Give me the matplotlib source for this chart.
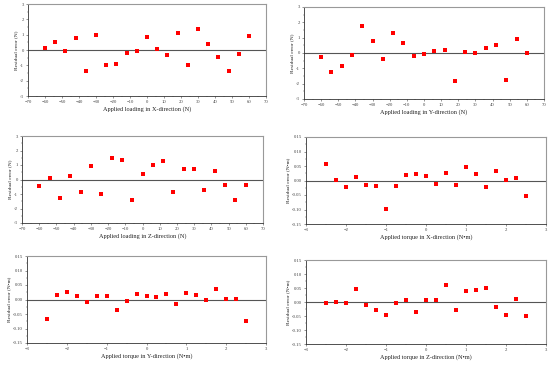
import matplotlib
matplotlib.use("Agg")
import matplotlib.pyplot as plt
from matplotlib.ticker import MultipleLocator, AutoMinorLocator, FormatStrFormatter

plt.rcParams['font.family'] = ['Liberation Serif', 'DejaVu Serif']

load_x = [-60, -54, -48, -42, -36, -30, -24, -18, -12, -6, 0, 6, 12, 18, 24, 30, 36, 42, 48, 54, 60]
torque_x = [-2.5, -2.25, -2.0, -1.75, -1.5, -1.25, -1.0, -0.75, -0.5, -0.25, 0.0,
            0.25, 0.5, 0.75, 1.0, 1.25, 1.5, 1.75, 2.0, 2.25, 2.5]

err_fx = [0.15, 0.55, -0.05, 0.8, -1.4, 1.0, -1.0, -0.9, -0.2, -0.08, 0.82,
          0.05, -0.32, 1.12, -1.0, 1.38, 0.42, -0.45, -1.35, -0.25, 0.9]
err_fy = [-0.27, -1.23, -0.88, -0.15, 1.73, 0.77, -0.42, 1.32, 0.65, -0.17, -0.07,
          0.15, 0.2, -1.85, 0.05, 0.0, 0.33, 0.52, -1.75, 0.93, 0.03]
err_fz = [-0.47, 0.07, -1.27, 0.22, -0.88, 0.92, -1.02, 1.47, 1.35, -1.38, 0.35,
          1.0, 1.3, -0.83, 0.72, 0.75, -0.72, 0.57, -0.35, -1.4, -0.4]
err_mx = [0.057, 0.002, -0.022, 0.013, -0.015, -0.018, -0.098, -0.018, 0.018, 0.022, 0.015,
          -0.012, 0.027, -0.015, 0.046, 0.023, -0.022, 0.032, 0.002, 0.009, -0.054]
err_my = [-0.068, 0.014, 0.025, 0.013, -0.010, 0.013, 0.011, -0.035, -0.005, 0.019, 0.013,
          0.009, 0.018, -0.014, 0.023, 0.016, -0.001, 0.036, 0.002, 0.001, -0.075]
err_mz = [-0.002, 0.001, -0.005, 0.047, -0.010, -0.030, -0.046, -0.005, 0.007, -0.034, 0.006,
          0.006, 0.060, -0.027, 0.041, 0.044, 0.050, -0.019, -0.046, 0.012, -0.049]

xlabels = ["Applied loading in X-direction (N)",
           "Applied loading in Y-direction (N)",
           "Applied loading in Z-direction (N)",
           "Applied torque in X-direction (N\u2022m)",
           "Applied torque in Y-direction (N\u2022m)",
           "Applied torque in Z-direction (N\u2022m)"]
ylabels = ["Residual error (N)"] * 3 + ["Residual error (N\u2022m)"] * 3

W, H = 550, 367
fig = plt.figure(figsize=(5.5, 3.67), dpi=100)

# pixel boxes: (left, top, right, bottom)
boxes = [(28, 4, 266, 96), (304, 7, 544, 99),
         (22, 136, 263, 223), (306, 137, 546, 224),
         (27, 256, 266, 343), (306, 260, 546, 344)]

series = [(load_x, err_fx), (load_x, err_fy), (load_x, err_fz),
          (torque_x, err_mx), (torque_x, err_my), (torque_x, err_mz)]

for i, ((l, t, r, b), (xs, ys)) in enumerate(zip(boxes, series)):
    ax = fig.add_axes([l / W, 1 - b / H, (r - l) / W, (b - t) / H])
    ax.scatter(xs, ys, marker='s', s=7.5, color='#ff0000', linewidths=0, zorder=3)
    ax.axhline(0, color='#555555', lw=0.8, zorder=2)
    if i < 3:
        ax.set_xlim(-70, 70)
        ax.set_ylim(-3, 3)
        ax.xaxis.set_major_locator(MultipleLocator(10))
        ax.yaxis.set_major_locator(MultipleLocator(1))
        ax.yaxis.set_major_formatter(FormatStrFormatter('%d'))
    else:
        ax.set_xlim(-3, 3)
        ax.set_ylim(-0.15, 0.15)
        ax.xaxis.set_major_locator(MultipleLocator(1))
        ax.yaxis.set_major_locator(MultipleLocator(0.05))
        ax.yaxis.set_major_formatter(FormatStrFormatter('%.2f'))
    ax.xaxis.set_minor_locator(AutoMinorLocator(2))
    ax.yaxis.set_minor_locator(AutoMinorLocator(2))
    for s in ['left', 'bottom']:
        ax.spines[s].set_color('#333333')
        ax.spines[s].set_linewidth(0.6)
    for s in ['top', 'right']:
        ax.spines[s].set_color('#999999')
        ax.spines[s].set_linewidth(0.8)
    ax.tick_params(which='major', length=1.5, width=0.4, labelsize=3.4,
                   colors='#444444', pad=1.5)
    ax.tick_params(which='minor', length=1.0, width=0.3, colors='#444444')
    ax.set_xlabel(xlabels[i], fontsize=4.5, labelpad=1.5, color='#222222')
    ax.set_ylabel(ylabels[i], fontsize=3.9, labelpad=1.5, color='#222222')

fig.savefig('out.png', dpi=100)
